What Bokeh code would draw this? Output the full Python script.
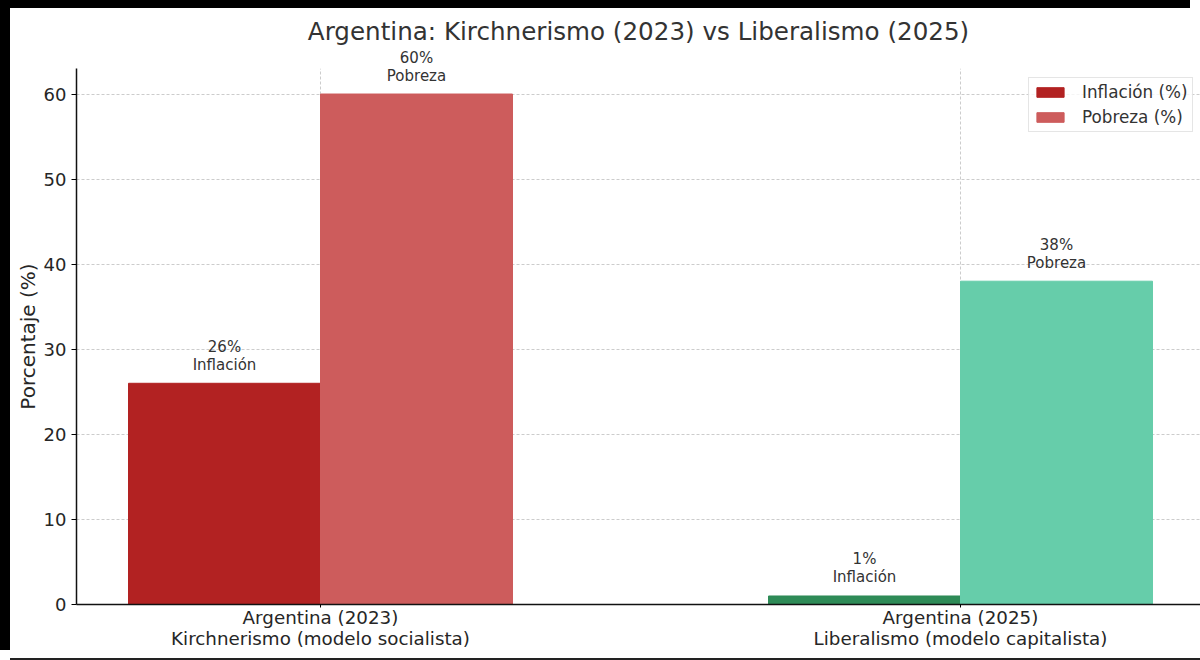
from bokeh.plotting import figure
from bokeh.models import (ColumnDataSource, Range1d, FixedTicker, Legend, LegendItem,
                          Label, Title)
from bokeh.embed import file_html
from bokeh.resources import INLINE

categories = ["Argentina (2023)\nKirchnerismo (modelo socialista)",
              "Argentina (2025)\nLiberalismo (modelo capitalista)"]
inflacion = [26, 1]
pobreza = [60, 38]
inflacion_colors = ["#B22222", "#2E8B57"]
pobreza_colors = ["#CD5C5C", "#66CDAA"]
y_ticks = [0, 10, 20, 30, 40, 50, 60]
title_text = "Argentina: Kirchnerismo (2023) vs Liberalismo (2025)"
FONT = "DejaVu Sans"
BAR_W = 0.3
Y_TOP = 63
PX_PER_UNIT = 8.51

xs = list(range(len(categories)))
src_inf = ColumnDataSource(dict(
    x=[i - BAR_W / 2 for i in xs], top=inflacion, color=inflacion_colors))
src_pob = ColumnDataSource(dict(
    x=[i + BAR_W / 2 for i in xs], top=pobreza, color=pobreza_colors))

p = figure(width=1190, height=650, output_backend="svg", toolbar_location=None,
           x_range=Range1d(-0.38125, 1.375), y_range=Range1d(0, Y_TOP),
           min_border_left=66, min_border_right=0, min_border_top=60, min_border_bottom=54,
           background_fill_color="white", border_fill_color="white")
p.outline_line_color = None
p.styles = {"transform": "translate(10px, 8px)",
            "box-shadow": "-10px -8px 0 0 #000000, 0 2px 0 0 #222222"}

p.title = Title(text=title_text, align="center", vertical_align="top", text_font=FONT,
                text_font_size="24.6px", text_font_style="normal", text_color="#333333", standoff=5)

for g in (p.xgrid[0], p.ygrid[0]):
    g.grid_line_color = "#cccccc"
    g.grid_line_dash = "3 2"
    g.grid_line_width = 1
p.xgrid[0].ticker = FixedTicker(ticks=xs)
p.ygrid[0].ticker = FixedTicker(ticks=y_ticks)

r_inf = p.vbar(x="x", top="top", bottom=0, width=BAR_W, color="color", source=src_inf)
r_pob = p.vbar(x="x", top="top", bottom=0, width=BAR_W, color="color", source=src_pob)

xa = p.xaxis[0]
xa.ticker = FixedTicker(ticks=xs)
xa.major_label_overrides = {i: c for i, c in zip(xs, categories)}
xa.major_label_text_font = FONT
xa.major_label_text_font_size = "18.3px"
xa.major_label_text_line_height = 1.0
xa.major_label_text_color = "#262626"
xa.major_label_standoff = -1
xa.major_tick_in = 0
xa.major_tick_out = 3
xa.minor_tick_line_color = None
xa.axis_line_color = "#111111"
xa.axis_line_width = 1.5

ya = p.yaxis[0]
ya.ticker = FixedTicker(ticks=y_ticks)
ya.axis_label = "Porcentaje (%)"
ya.axis_label_text_font = FONT
ya.axis_label_text_font_size = "20px"
ya.axis_label_text_font_style = "normal"
ya.axis_label_text_color = "#262626"
ya.axis_label_standoff = 1
ya.major_label_text_font = FONT
ya.major_label_text_font_size = "18px"
ya.major_label_text_color = "#262626"
ya.major_label_standoff = 5
ya.major_tick_in = 0
ya.major_tick_out = 5
ya.minor_tick_line_color = None
ya.axis_line_color = "#111111"
ya.axis_line_width = 1.5

def add_labels(src, name):
    for x, top in zip(src.data["x"], src.data["top"]):
        for text, off in ((name, 18.5), (f"{top}%", 36.5)):
            lab = Label(x=x, y=top, text=text, y_offset=off,
                        text_align="center", text_baseline="middle",
                        text_font=FONT, text_font_size="15px", text_color="#333333")
            # a label that would leave the frame goes in the panel above, where it is not clipped
            outside = top + (off + 6) / PX_PER_UNIT > Y_TOP
            p.add_layout(lab, "above" if outside else "center")

add_labels(src_inf, "Inflación")
add_labels(src_pob, "Pobreza")

legend = Legend(items=[LegendItem(label="Inflación (%)", renderers=[r_inf], index=0),
                       LegendItem(label="Pobreza (%)", renderers=[r_pob], index=0)],
                location=(952, 472), margin=0, padding=4, spacing=5,
                glyph_width=34, glyph_height=12, label_standoff=15,
                label_text_font=FONT, label_text_font_size="16.8px", label_text_color="#333333",
                border_line_color="#cccccc", border_line_width=1.2,
                background_fill_color="white", background_fill_alpha=0.8)
p.add_layout(legend, "center")

open("out.html", "w").write(file_html(p, INLINE))
